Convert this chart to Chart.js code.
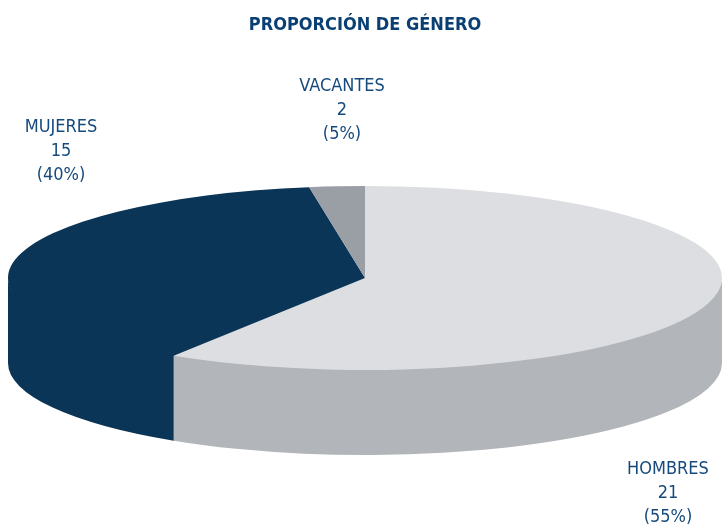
<!DOCTYPE html>
<html>
<head>
<meta charset="utf-8">
<style>html,body{margin:0;padding:0;background:#fff}#wrap{width:722px;height:526px;position:relative}</style>
<script src="https://cdn.jsdelivr.net/npm/chart.js@4"></script>
</head>
<body>
<div id="wrap"><canvas id="c" width="722" height="526"></canvas></div>
<script>
const categories = ['HOMBRES', 'MUJERES', 'VACANTES'];
const printedCounts = [21, 15, 2];
const printedPercents = ['55%', '40%', '5%'];
// Slice sizes as actually drawn in the picture, which differ from the printed shares.
const drawnShares = [59.0, 38.5, 2.5];
const topColors = ['#dcdee1', '#0a3557', '#9a9fa6'];
const sideColors = ['#b2b5b9', '#0a3557', '#85898f'];
const labelAnchors = [[668, 475], [61, 133], [342, 92]];

const TILT = 92 / 357, DEPTH = 85, CY = 278;
const TEXT = '#164a7d';

const tilt3d = {
  id: 'tilt3d',
  beforeDatasetsDraw(chart) {
    const ctx = chart.ctx, arcs = chart.getDatasetMeta(0).data;
    arcs.forEach((arc, i) => {
      const a = Math.max(arc.startAngle, 0), b = Math.min(arc.endAngle, Math.PI);
      if (b <= a) return;
      const rx = arc.outerRadius, ry = rx * TILT;
      ctx.beginPath();
      // inner edge tucked slightly under the top face so no seam shows
      ctx.ellipse(arc.x, CY - 1, rx, ry, 0, a, b);
      ctx.ellipse(arc.x, CY + DEPTH, rx, ry, 0, b, a, true);
      ctx.closePath();
      ctx.fillStyle = sideColors[i];
      ctx.fill();
    });
    const y0 = arcs[0].y;
    ctx.save();
    ctx.translate(0, CY);
    ctx.scale(1, TILT);
    ctx.translate(0, -y0);
  },
  afterDatasetsDraw(chart) {
    const ctx = chart.ctx;
    ctx.restore();
    ctx.save();
    ctx.font = '18px "DejaVu Sans Condensed"';
    ctx.fillStyle = TEXT;
    ctx.textAlign = 'center';
    ctx.textBaseline = 'middle';
    categories.forEach((name, i) => {
      const [x, y] = labelAnchors[i];
      ctx.fillText(name, x, y - 6);
      ctx.fillText(String(printedCounts[i]), x, y + 18);
      ctx.fillText('(' + printedPercents[i] + ')', x, y + 42);
    });
    ctx.restore();
  }
};

new Chart(document.getElementById('c'), {
  type: 'pie',
  data: {
    labels: categories,
    datasets: [{
      data: drawnShares,
      backgroundColor: topColors,
      borderWidth: 0,
      clip: false
    }]
  },
  options: {
    responsive: false,
    animation: false,
    radius: 357,
    layout: { padding: { left: 8 } },
    plugins: {
      legend: { display: false },
      tooltip: { enabled: false },
      title: {
        display: true,
        text: 'PROPORCIÓN DE GÉNERO',
        color: '#0a3f73',
        font: { family: '"DejaVu Sans Condensed"', size: 18, weight: 'bold' },
        padding: { top: 15, bottom: 10 }
      }
    }
  },
  plugins: [tilt3d]
});
</script>
</body>
</html>
